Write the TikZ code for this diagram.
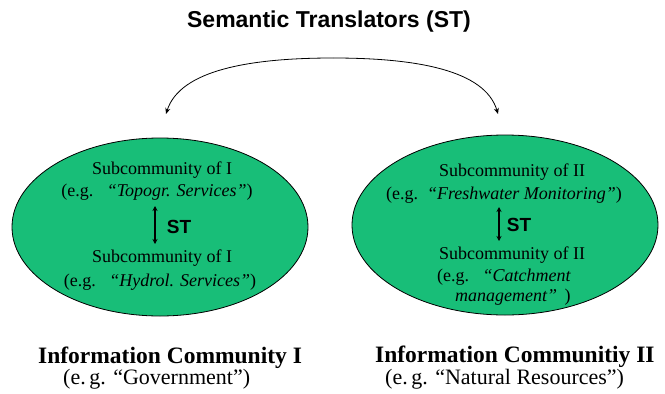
\documentclass[tikz,border=0pt]{standalone}
\usepackage{fontspec}
\setmainfont{Liberation Serif}
\newfontfamily\titlefont{Liberation Sans}
\usetikzlibrary{arrows.meta}
\definecolor{ellgreen}{RGB}{24,190,120}
\begin{document}
\begin{tikzpicture}[x=1pt,y=-1pt,
  inner/.style={font=\fontsize{18}{20}\selectfont,inner sep=0pt},
  stlabel/.style={font=\titlefont\bfseries\fontsize{19}{20}\selectfont,inner sep=0pt},
  bottom/.style={font=\bfseries\fontsize{23.5}{25}\selectfont,inner sep=0pt,anchor=west},
  bottomsub/.style={font=\fontsize{22}{24}\selectfont,inner sep=0pt,anchor=west},
  starrow/.style={{Stealth[length=5pt,width=5pt]}-{Stealth[length=5pt,width=5pt]},line width=1.6pt},
  arcarrow/.style={-{Stealth[length=6pt,width=5pt]},line width=0.8pt}]
\useasboundingbox (0,0) rectangle (665,394);
\fill[white] (0,0) rectangle (665,394);
\node[font=\titlefont\bfseries\fontsize{23}{26}\selectfont,inner sep=0pt] (title) at (329,22) {Semantic Translators (ST)};
\coordinate (arcL) at (166,114);
\coordinate (arcR) at (498,114);
\draw[arcarrow] (333,58) .. controls (250,58) and (180,70) .. (arcL);
\draw[arcarrow] (333,58) .. controls (416,58) and (485,70) .. (arcR);
% left ellipse
\draw[line width=0.8pt,fill=ellgreen] (160,227) ellipse [x radius=148, y radius=89];
\node[inner] (l1) at (162,170) {Subcommunity of I};
\node[inner] (l2) at (157,192) {(e.g.\ \ \ \textit{``Topogr. Services''})};
\coordinate (la1) at (155,206);
\coordinate (la2) at (155,244);
\draw[starrow] (la1) -- (la2);
\node[stlabel] (lst) at (179,227) {ST};
\node[inner] (l3) at (162,258) {Subcommunity of I};
\node[inner] (l4) at (160,282) {(e.g.\ \ \ \textit{``Hydrol. Services''})};
% right ellipse
\draw[line width=0.8pt,fill=ellgreen] (505,225) ellipse [x radius=153, y radius=90];
\node[inner] (r1) at (512,172) {Subcommunity of II};
\node[inner] (r2) at (504,195) {(e.g.\ \ \textit{``Freshwater Monitoring''})};
\coordinate (ra1) at (499,207);
\coordinate (ra2) at (499,241);
\draw[starrow] (ra1) -- (ra2);
\node[stlabel] (rst) at (519,225) {ST};
\node[inner] (r3) at (512,255) {Subcommunity of II};
\node[inner,anchor=west] (r4) at (437,277) {(e.g.\ \ \ \textit{``Catchment}};
\node[inner,anchor=west] (r5) at (455,297) {\textit{management'' }\,)};
% bottom labels
\node[bottom] (b1) at (38,358) {Information Community I};
\node[bottomsub] (b2) at (63,379) {(e.\,g. ``Government'')};
\node[bottom] (b3) at (375,357) {Information Communitiy II};
\node[bottomsub] (b4) at (385,379) {(e.\,g. ``Natural Resources'')};
\end{tikzpicture}
\end{document}
